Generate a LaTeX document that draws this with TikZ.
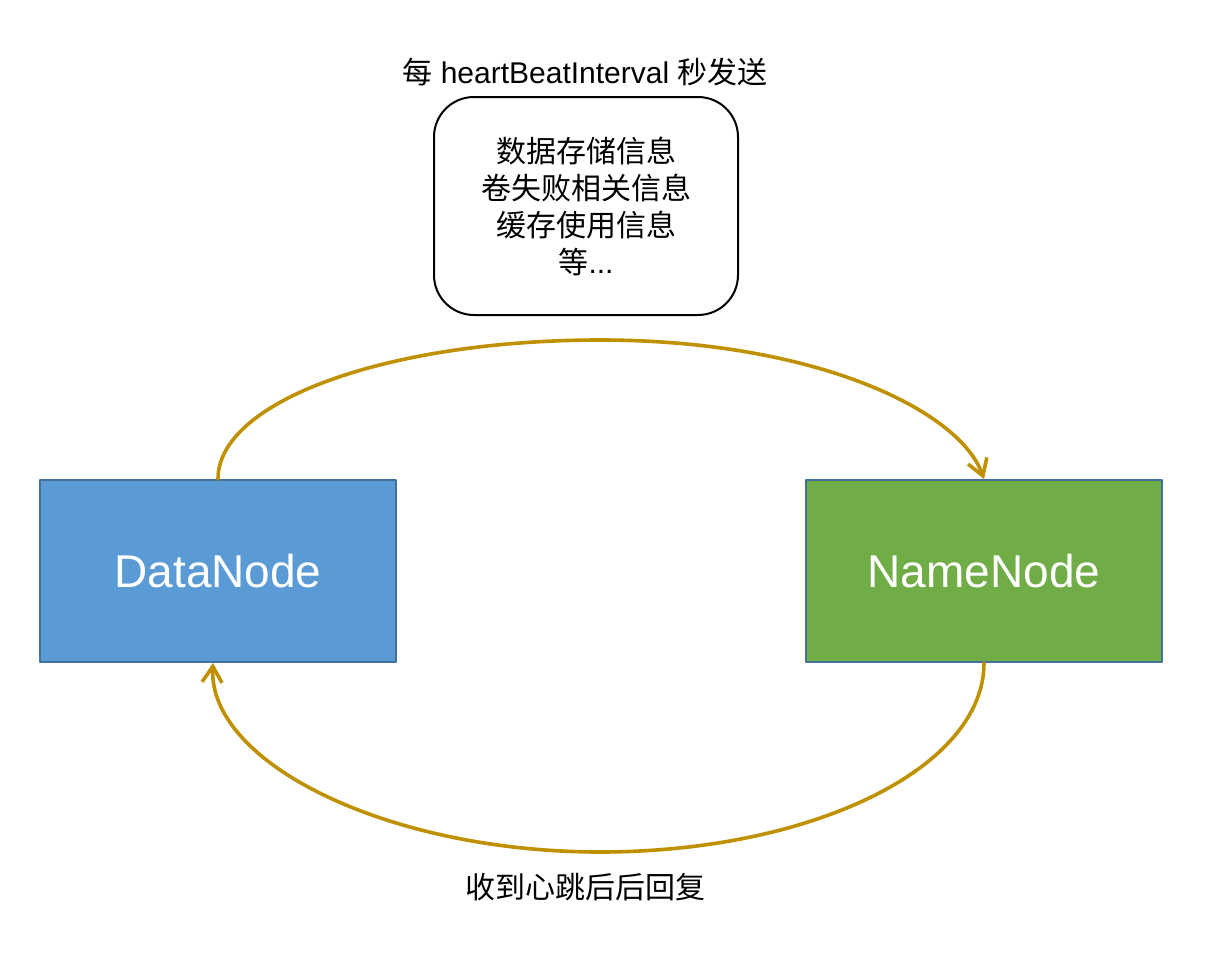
\documentclass[tikz,border=0pt]{standalone}
\usepackage{fontspec}
\setmainfont{Liberation Sans}
\newfontfamily\cjk{Noto Sans CJK SC}
\usetikzlibrary{arrows.meta}
\definecolor{dnblue}{HTML}{5B9BD5}
\definecolor{nngreen}{HTML}{70AD47}
\definecolor{edgeblue}{HTML}{41719C}
\definecolor{beatgold}{HTML}{BF9000}
\tikzset{
  nodebox/.style={draw=edgeblue,line width=1pt,minimum width=178pt,minimum height=91pt,
    text=white,font=\fontsize{23}{27}\selectfont,inner sep=0pt},
  infobox/.style={draw=black,line width=1pt,rounded corners=20pt,minimum width=152pt,
    minimum height=109pt,align=center,font=\fontsize{15}{18.5}\selectfont\cjk,inner sep=0pt},
  plain/.style={font=\fontsize{15}{18}\selectfont,inner sep=0pt},
  beat/.style={draw=beatgold,line width=1.8pt,-{Straight Barb[length=8pt,width=10pt,line width=1.8pt]}}
}
\begin{document}
\begin{tikzpicture}[x=0.5pt,y=-0.5pt,line join=round,line cap=round]
  \fill[white] (0,0) rectangle (1228,980);

  % Nodes
  \node[nodebox,fill=dnblue] (dn) at (218,571) {DataNode};
  \node[nodebox,fill=nngreen] (nn) at (984,571) {NameNode};
  \node[infobox] (info) at (586,206) {数据存储信息\\卷失败相关信息\\缓存使用信息\\等{\fontspec{Liberation Sans}...}};
  \node[plain] (send) at (585,72) {{\cjk 每} heartBeatInterval {\cjk 秒发送}};
  \node[plain,font=\fontsize{15}{18}\selectfont\cjk] (reply) at (585,887) {收到心跳后后回复};

  % Heartbeat arcs
  \coordinate (top) at (600,340);
  \coordinate (bot) at (600,852);
  \draw[beat] (dn.north) .. controls +(0,-78) and +(-212,0) .. (top)
    .. controls +(212,0) and +(-25,-70) .. (nn.north);
  \draw[beat] (nn.south) .. controls +(0,105) and +(212,0) .. (bot)
    .. controls +(-212,0) and +(-5,100) .. ([xshift=-2.5pt]dn.south);
\end{tikzpicture}
\end{document}
